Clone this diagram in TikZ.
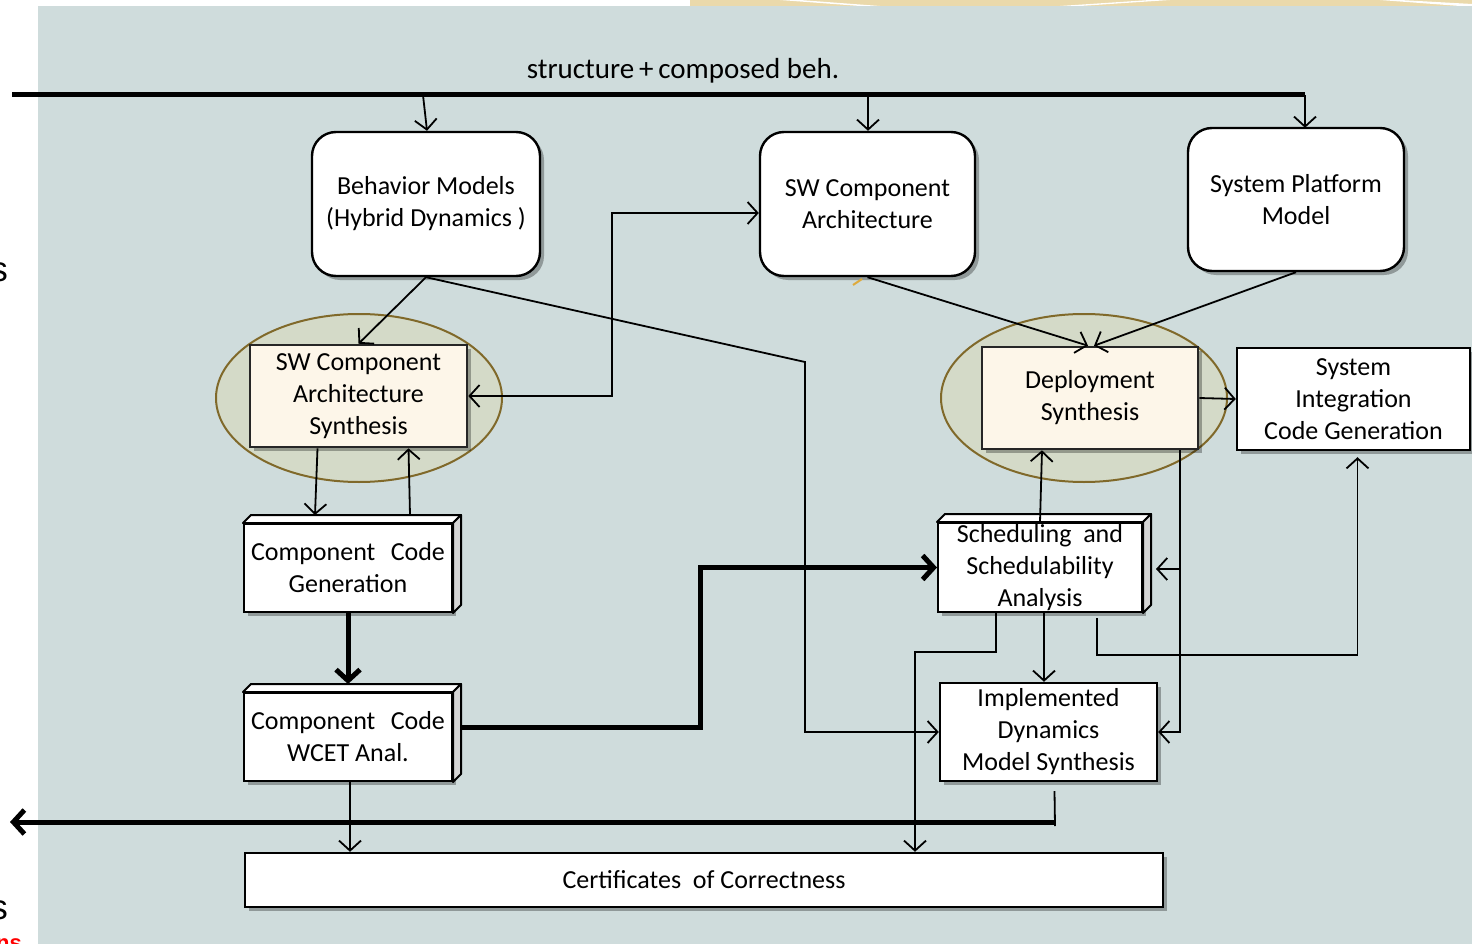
\documentclass[tikz,border=0pt]{standalone}
\usepackage{fontspec}
\setmainfont{Carlito}
\newfontfamily\edgefont{Liberation Sans}
\usetikzlibrary{arrows.meta,shapes.geometric,shadows}

\definecolor{panel}{RGB}{207,220,220}
\definecolor{band}{RGB}{234,217,171}
\definecolor{ringfill}{RGB}{212,218,200}
\definecolor{ringline}{RGB}{128,105,42}
\definecolor{cream}{RGB}{253,246,233}
\definecolor{sideface}{RGB}{214,214,214}
\definecolor{tick}{RGB}{222,170,60}

\begin{document}
\begin{tikzpicture}[x=1pt,y=-1pt,
  txt/.style={font=\fontsize{26}{32}\selectfont, align=center, inner sep=0pt},
  shade/.style={drop shadow={shadow xshift=4pt,shadow yshift=-4pt,opacity=0.3,fill=black}},
  model/.style={txt, shade, draw, line width=2.4pt, rounded corners=24pt, fill=white},
  plainbox/.style={txt, shade, draw, line width=2.4pt, fill=white},
  synthbox/.style={txt, shade, draw=black!85, line width=2.6pt, fill=cream},
  toolbox/.style={txt, shade, draw, line width=2pt, fill=white},
  ring/.style={ellipse, draw=ringline, line width=2pt, fill=ringfill, minimum width=286pt, minimum height=168pt},
  conn/.style={line width=1.8pt},
  arr/.style={conn, -{Straight Barb[length=10pt,width=22pt]}},
  darr/.style={conn, {Straight Barb[length=10pt,width=22pt]}-{Straight Barb[length=10pt,width=22pt]}},
  bus/.style={line width=5pt},
  busarr/.style={bus, -{Straight Barb[length=11pt,width=24pt]}}
]
\useasboundingbox (0,0) rectangle (1472,944);

% backdrop
\fill[panel] (38,6) rectangle (1472,944);
\fill[band] (690,0) rectangle (1472,6);
\fill[white] (780,0) -- (860,6) -- (880,6) -- (800,0) -- cycle;
\fill[white] (1150,0) -- (1060,6) -- (1080,6) -- (1170,0) -- cycle;
\fill[white] (1380,0) -- (1460,6) -- (1472,6) -- (1472,4) -- (1400,0) -- cycle;

% fragments at the left edge
\node[font=\edgefont\fontsize{35}{40}\selectfont, anchor=base east, inner sep=0pt] (fragA) at (8,281) {s};
\node[font=\edgefont\fontsize{35}{40}\selectfont, anchor=base east, inner sep=0pt] (fragB) at (8,919) {s};
\node[font=\edgefont\bfseries\fontsize{22}{26}\selectfont, text=red, anchor=north west, inner sep=0pt] (fragC) at (-4,938) {ns};

% synthesis rings
\node[ring] (ring1) at (359,398) {};
\node[ring] (ring2) at (1084,398) {};

% model boxes
\node[model, minimum width=228pt, minimum height=144pt] (beh) at (426,204)
  {Behavior Models\\(Hybrid Dynamics )};
\node[model, minimum width=215pt, minimum height=144pt] (swca) at (867.5,204)
  {SW Component\\Architecture};
\node[model, minimum width=216pt, minimum height=143pt] (spm) at (1296,199.5)
  {System Platform\\Model};

% synthesis steps
\node[synthbox, minimum width=217pt, minimum height=102pt] (swcas) at (358.5,396)
  {SW Component\\Architecture\\Synthesis};
\node[synthbox, minimum width=216pt, minimum height=102pt] (dep) at (1090,398)
  {Deployment\\Synthesis};
\node[plainbox, minimum width=233pt, minimum height=102pt] (sicg) at (1353.5,399)
  {System\\Integration\\Code Generation};
\node[plainbox, minimum width=217pt, minimum height=98pt] (impl) at (1048.5,732)
  {Implemented\\Dynamics\\Model Synthesis};
\node[plainbox, minimum width=918pt, minimum height=54pt] (cert) at (704,880)
  {Certificates\ \ of Correctness};

% tool boxes with a bevelled top and side
\node[toolbox, minimum width=208pt, minimum height=88pt] (ccg) at (348,568)
  {\makebox[194pt][s]{Component Code}\\Generation};
\node[toolbox, minimum width=208pt, minimum height=88pt] (wcet) at (348,737)
  {\makebox[194pt][s]{Component Code}\\WCET Anal.};
\node[toolbox, minimum width=204pt, minimum height=89pt] (sched) at (1040,567.5)
  {Scheduling\ \ and\\Schedulability\\Analysis};
\foreach \b in {ccg,wcet,sched}{
  \draw[line width=2pt, fill=white, line join=round]
    (\b.north west) -- ++(8,-8) -- ([shift={(8,-8)}]\b.north east) -- (\b.north east) -- cycle;
  \draw[line width=2pt, fill=sideface, line join=round]
    (\b.north east) -- ++(8,-8) -- ([shift={(8,-8)}]\b.south east) -- (\b.south east) -- cycle;
}

% incoming structure bus
\coordinate (busL) at (12,95);
\coordinate (busR) at (1305,95);
\draw[bus] (busL) -- (busR);
\node[font=\fontsize{29}{34}\selectfont, inner sep=0pt] (buslabel) at (683,71)
  {structure\,+\,composed beh.};
\coordinate (tapA) at (423,95);
\coordinate (tapB) at (868,95);
\coordinate (tapC) at (1305,95);
\draw[arr] (tapA) -- ([xshift=1pt]beh.north);
\draw[arr] (tapB) -- ([xshift=0.5pt]swca.north);
\draw[arr] (tapC) -- ([xshift=9pt,yshift=-1pt]spm.north);

% model flows
\draw[arr] (beh.south) -- (swcas.north);
\coordinate (bendA) at (805,362);
\draw[arr] (beh.south) -- (bendA) |- (impl.west);
\coordinate (bendB) at (612,396);
\draw[darr] (swcas.east) -- (bendB) |- ([yshift=-9pt]swca.west);
\draw[arr] (swca.south) -- ([xshift=-2pt]dep.north);
\draw[arr] (spm.south) -- ([xshift=4pt]dep.north);

% left column
\draw[arr] ([xshift=-41pt]swcas.south) -- ([xshift=-33pt,yshift=8pt]ccg.north);
\draw[arr] ([xshift=62pt,yshift=8pt]ccg.north) -- ([xshift=50pt]swcas.south);
\draw[busarr] (ccg.south) -- ([yshift=8pt]wcet.north);
\coordinate (bendC) at (700,727);
\draw[busarr] ([xshift=8pt,yshift=10pt]wcet.east) -- (bendC) |- (sched.west);
\draw[arr] ([xshift=2pt]wcet.south) -- ([xshift=-354pt]cert.north);

% right column
\draw[arr] (sched.north) -- ([xshift=-48pt]dep.south);
\draw[arr] (dep.east) -- (sicg.west);
\coordinate (split) at (1180,569);
\draw[arr] ([xshift=90pt]dep.south) |- (impl.east);
\draw[arr] (split) -- ([xshift=13pt,yshift=-1.5pt]sched.east);
\draw[arr] ([xshift=4pt]sched.south) -- ([xshift=-4.5pt]impl.north);
\coordinate (bendD) at (996,652);
\draw[arr] ([xshift=-44pt]sched.south) -- (bendD) -| ([xshift=211pt]cert.north);
\coordinate (bendE) at (1097,655);
\draw[arr] ([xshift=57pt,yshift=-5pt]sched.south) -- (bendE) -| ([xshift=4pt,yshift=-6pt]sicg.south);

% outgoing bus
\coordinate (outR) at (1055,822);
\coordinate (outL) at (10,822);
\draw[conn] ([xshift=6pt,yshift=-9pt]impl.south) -- (1055,826);
\draw[busarr] (outR) -- (outL);

% small mark under the architecture box
\draw[tick, line width=2pt] (853,285) -- (862,279);
\end{tikzpicture}
\end{document}
